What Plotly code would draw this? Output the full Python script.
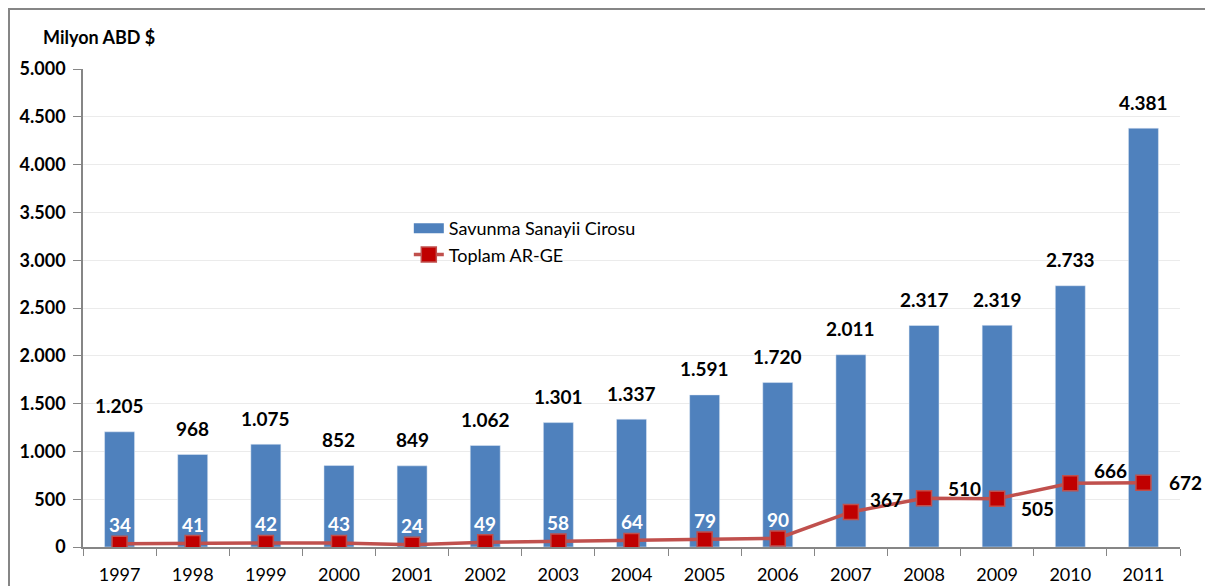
import plotly.graph_objects as go

years = ["1997", "1998", "1999", "2000", "2001", "2002", "2003", "2004",
         "2005", "2006", "2007", "2008", "2009", "2010", "2011"]
ciro = [1205, 968, 1075, 852, 849, 1062, 1301, 1337, 1591, 1720, 2011, 2317, 2319, 2733, 4381]
arge = [34, 41, 42, 43, 24, 49, 58, 64, 79, 90, 367, 510, 505, 666, 672]
y_ticks = [0, 500, 1000, 1500, 2000, 2500, 3000, 3500, 4000, 4500, 5000]

# label offsets (pixels) for line labels
line_dx = [0] * 10 + [36, 40, 40, 40, 42]
line_dy = [19] * 10 + [12, 10, -10, 13, 0]
line_col = ["white"] * 10 + ["black"] * 5

FONT = "Lato"
BLUE = "#4F81BD"
RED = "#C0504D"

W, H = 1213, 586
OFF = 8  # page offset
L, R, T, B = 83 - OFF, 1180 - OFF, 69 - OFF, 547 - OFF
PW, PH = R - L, B - T

fig = go.Figure()
fig.add_trace(go.Bar(
    x=years, y=ciro, name="Savunma Sanayii Cirosu",
    marker=dict(color=BLUE), width=0.41, showlegend=False,
))
# legend swatch for the bars (wide rectangle as in the original)
fig.add_trace(go.Scatter(
    x=[None], y=[None], name="Savunma Sanayii Cirosu", mode="lines",
    line=dict(color=BLUE, width=10), showlegend=True,
))
fig.add_trace(go.Scatter(
    x=years, y=arge, name="Toplam AR-GE", mode="lines+markers",
    line=dict(color=RED, width=3.5),
    marker=dict(symbol="square", size=15, color="#C00000", line=dict(color=RED, width=1.5)),
))

annotations = []
for i, v in enumerate(ciro):
    annotations.append(dict(
        x=i, y=v, xref="x", yref="y", text=f"{v:,}".replace(",", "."),
        showarrow=False, yshift=26, font=dict(family=FONT, size=19, color="black", weight="bold"),
    ))
for i, (v, dx, dy, c) in enumerate(zip(arge, line_dx, line_dy, line_col)):
    annotations.append(dict(
        x=i, y=v, xref="x", yref="y", text=str(v),
        showarrow=False, xshift=dx, yshift=dy,
        font=dict(family=FONT, size=19, color=c, weight="bold"),
    ))
annotations.append(dict(
    x=(41 - 83) / PW, y=(547 - 37) / PH, xref="paper", yref="paper", xanchor="left", yanchor="middle",
    text="<b>Milyon ABD $</b>", showarrow=False,
    font=dict(family=FONT, size=18, color="black"),
))

fig.update_layout(
    width=W, height=H,
    margin=dict(l=L, r=W - R, t=T, b=H - B, pad=0, autoexpand=False),
    paper_bgcolor="white", plot_bgcolor="white",
    separators=",.",
    showlegend=True,
    legend=dict(x=0.297, y=0.705, xanchor="left", yanchor="top",
                font=dict(family=FONT, size=18, color="black"),
                bgcolor="rgba(0,0,0,0)", tracegroupgap=0, itemwidth=30),
    font=dict(family=FONT, size=18, color="black"),
    annotations=annotations,
    xaxis=dict(
        type="category", range=[-0.5, 14.5], showline=True, linecolor="#868686", linewidth=1.5,
        ticks="outside", tickson="boundaries", ticklen=7, tickcolor="#868686",
        tickfont=dict(family=FONT, size=18, color="black"), showgrid=False, tickangle=0,
        ticklabelstandoff=11, automargin=False,
    ),
    yaxis=dict(
        range=[0, 5000], tickvals=y_ticks, tickformat=",d",
        showline=True, linecolor="#868686", linewidth=1.5,
        ticks="outside", ticklen=8, tickcolor="#868686",
        gridcolor="#EBEBEB", gridwidth=1, zeroline=False,
        tickfont=dict(family=FONT, size=18, color="black", weight="bold"),
        ticklabelstandoff=4, automargin=False,
    ),
    shapes=[
        dict(type="line", xref="paper", yref="paper", x0=-L / PW, x1=1.2,
             y0=(PH + T - 1) / PH, y1=(PH + T - 1) / PH, line=dict(color="#868686", width=2)),
        dict(type="line", xref="paper", yref="paper", x0=(1 - L) / PW, x1=(1 - L) / PW,
             y0=(PH + T - 1) / PH, y1=-0.2, line=dict(color="#868686", width=2)),
    ],
)

fig.write_html("out.html")
